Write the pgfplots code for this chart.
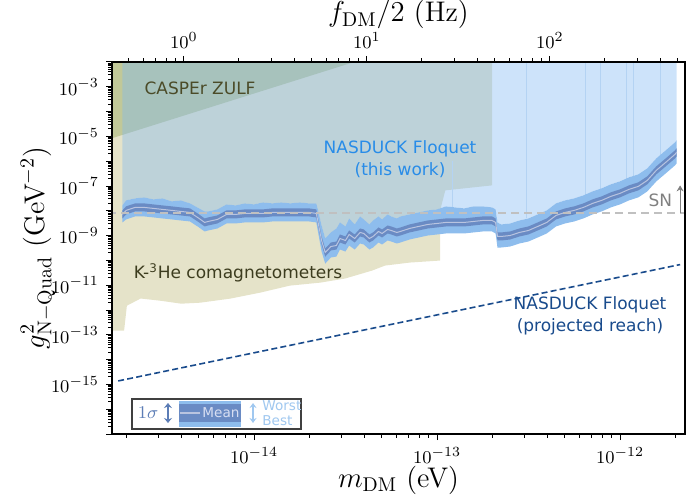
\documentclass[border=0pt]{standalone}
\usepackage{pgfplots}
\pgfplotsset{compat=1.18}
\usepackage{pgfplotstable}
\usepgfplotslibrary{fillbetween}
\usetikzlibrary{arrows.meta}
\usepackage{fontspec}
\newfontfamily\dv{DejaVu Sans}

\definecolor{kh}{RGB}{229,227,201}
\definecolor{casp}{RGB}{110,140,40}
\definecolor{nasfill}{RGB}{130,185,242}
\definecolor{bandout}{RGB}{142,189,237}
\definecolor{bandin}{RGB}{106,139,196}
\definecolor{meanline}{RGB}{185,196,224}
\definecolor{spikecol}{RGB}{180,211,243}
\definecolor{castext}{RGB}{75,75,40}
\definecolor{khtext}{RGB}{60,60,30}
\definecolor{nastext}{RGB}{40,140,232}
\definecolor{projcol}{RGB}{25,75,140}
\definecolor{snline}{RGB}{192,192,192}
\definecolor{sntext}{RGB}{128,128,128}
\definecolor{sigcol}{RGB}{92,125,182}
\definecolor{meantext}{RGB}{215,222,242}
\definecolor{worstcol}{RGB}{160,200,240}

\pgfplotstableread{
m mean worst hi lo best
1.91e-15 7.14e-9 1.65e-8 1.04e-8 4.92e-9 3.40e-9
2.00e-15 1.04e-8 2.63e-8 1.51e-8 7.14e-9 4.49e-9
2.24e-15 1.37e-8 3.17e-8 1.99e-8 9.44e-9 5.93e-9
2.51e-15 1.37e-8 3.48e-8 1.99e-8 9.44e-9 5.93e-9
2.82e-15 1.25e-8 2.89e-8 1.81e-8 8.61e-9 5.41e-9
3.16e-15 1.14e-8 3.17e-8 1.65e-8 7.85e-9 4.92e-9
3.55e-15 1.04e-8 2.40e-8 1.51e-8 7.14e-9 4.49e-9
3.98e-15 9.44e-9 2.63e-8 1.37e-8 6.51e-9 4.08e-9
4.47e-15 8.61e-9 1.99e-8 1.25e-8 5.93e-9 3.72e-9
5.01e-15 4.92e-9 1.25e-8 7.14e-9 3.40e-9 2.13e-9
5.37e-15 3.40e-9 9.44e-9 4.92e-9 2.34e-9 1.47e-9
5.62e-15 3.72e-9 9.44e-9 5.41e-9 2.56e-9 1.61e-9
6.31e-15 4.49e-9 1.14e-8 6.51e-9 3.09e-9 1.94e-9
7.08e-15 7.14e-9 1.81e-8 1.04e-8 4.92e-9 3.09e-9
7.94e-15 7.14e-9 1.65e-8 1.04e-8 4.92e-9 3.09e-9
8.91e-15 7.85e-9 1.99e-8 1.14e-8 5.41e-9 3.40e-9
1.00e-14 7.85e-9 1.81e-8 1.14e-8 5.41e-9 3.40e-9
1.12e-14 7.85e-9 2.18e-8 1.14e-8 5.41e-9 3.40e-9
1.26e-14 8.61e-9 1.99e-8 1.25e-8 5.93e-9 3.72e-9
1.41e-14 8.61e-9 2.18e-8 1.25e-8 5.93e-9 3.72e-9
1.58e-14 8.61e-9 1.99e-8 1.25e-8 5.93e-9 3.72e-9
1.78e-14 8.61e-9 2.18e-8 1.25e-8 5.93e-9 3.72e-9
2.00e-14 8.61e-9 1.99e-8 1.25e-8 5.93e-9 3.72e-9
2.19e-14 7.85e-9 1.99e-8 1.14e-8 5.41e-9 3.40e-9
2.24e-14 3.40e-9 1.04e-8 4.92e-9 2.34e-9 1.34e-9
2.34e-14 6.35e-10 2.56e-9 9.22e-10 4.38e-10 2.28e-10
2.45e-14 2.08e-10 7.65e-10 3.01e-10 1.43e-10 7.46e-11
2.51e-14 2.51e-10 9.22e-10 3.63e-10 1.72e-10 8.99e-11
2.63e-14 3.63e-10 1.34e-9 5.27e-10 2.51e-10 1.31e-10
2.82e-14 3.99e-10 1.94e-9 5.78e-10 2.75e-10 1.43e-10
2.95e-14 7.65e-10 3.40e-9 1.11e-9 5.27e-10 2.75e-10
3.16e-14 6.35e-10 2.34e-9 9.22e-10 4.38e-10 2.28e-10
3.31e-14 1.11e-9 4.92e-9 1.61e-9 7.65e-10 3.99e-10
3.55e-14 7.65e-10 2.82e-9 1.11e-9 5.27e-10 2.75e-10
3.80e-14 1.34e-9 5.93e-9 1.94e-9 9.22e-10 4.81e-10
3.98e-14 1.22e-9 4.49e-9 1.77e-9 8.39e-10 4.38e-10
4.27e-14 7.65e-10 2.82e-9 1.11e-9 5.27e-10 2.75e-10
4.47e-14 9.22e-10 4.08e-9 1.34e-9 6.35e-10 3.31e-10
4.79e-14 1.47e-9 5.93e-9 2.13e-9 1.01e-9 5.27e-10
5.01e-14 1.22e-9 4.49e-9 1.77e-9 8.39e-10 4.38e-10
5.37e-14 1.77e-9 7.14e-9 2.56e-9 1.22e-9 6.35e-10
5.62e-14 1.61e-9 5.93e-9 2.34e-9 1.11e-9 5.78e-10
6.03e-14 1.34e-9 4.92e-9 1.94e-9 9.22e-10 4.81e-10
6.31e-14 1.47e-9 5.93e-9 2.13e-9 1.01e-9 5.27e-10
7.08e-14 1.94e-9 7.14e-9 2.82e-9 1.34e-9 6.97e-10
7.94e-14 2.34e-9 8.61e-9 3.40e-9 1.61e-9 8.39e-10
8.91e-14 2.82e-9 1.04e-8 4.08e-9 1.94e-9 1.01e-9
1.00e-13 3.09e-9 1.14e-8 4.49e-9 2.13e-9 1.11e-9
1.12e-13 3.40e-9 1.51e-8 4.92e-9 2.34e-9 1.22e-9
1.26e-13 3.40e-9 1.37e-8 4.92e-9 2.34e-9 1.22e-9
1.41e-13 3.40e-9 1.25e-8 4.92e-9 2.34e-9 1.22e-9
1.58e-13 3.72e-9 1.51e-8 5.41e-9 2.56e-9 1.34e-9
1.78e-13 4.08e-9 1.51e-8 5.93e-9 2.82e-9 1.47e-9
2.00e-13 4.08e-9 1.37e-8 5.93e-9 2.82e-9 1.47e-9
2.09e-13 3.40e-9 1.14e-8 4.92e-9 2.34e-9 1.22e-9
2.14e-13 9.22e-10 3.40e-9 1.34e-9 6.35e-10 3.31e-10
2.24e-13 9.22e-10 2.82e-9 1.34e-9 6.35e-10 3.31e-10
2.51e-13 1.01e-9 3.09e-9 1.47e-9 6.97e-10 3.63e-10
2.82e-13 1.34e-9 4.08e-9 1.94e-9 9.22e-10 4.81e-10
3.16e-13 1.61e-9 4.92e-9 2.34e-9 1.11e-9 5.78e-10
3.55e-13 2.34e-9 7.14e-9 3.40e-9 1.61e-9 8.39e-10
3.98e-13 3.40e-9 1.04e-8 4.92e-9 2.34e-9 1.22e-9
4.47e-13 6.51e-9 1.99e-8 9.44e-9 4.49e-9 2.34e-9
5.01e-13 8.61e-9 2.63e-8 1.25e-8 5.93e-9 3.09e-9
5.62e-13 1.04e-8 3.17e-8 1.51e-8 7.14e-9 3.72e-9
6.31e-13 1.37e-8 4.19e-8 1.99e-8 9.44e-9 4.92e-9
7.08e-13 1.99e-8 6.08e-8 2.89e-8 1.37e-8 7.14e-9
7.94e-13 2.63e-8 8.04e-8 3.82e-8 1.81e-8 9.44e-9
8.91e-13 3.82e-8 1.17e-7 5.55e-8 2.63e-8 1.37e-8
1.00e-12 5.05e-8 1.54e-7 7.33e-8 3.48e-8 1.81e-8
1.12e-12 7.33e-8 2.24e-7 1.06e-7 5.05e-8 2.63e-8
1.26e-12 9.69e-8 2.96e-7 1.41e-7 6.67e-8 3.48e-8
1.41e-12 1.69e-7 5.18e-7 2.46e-7 1.17e-7 6.08e-8
1.58e-12 4.30e-7 1.31e-6 6.24e-7 2.96e-7 1.54e-7
1.78e-12 9.06e-7 2.77e-6 1.31e-6 6.24e-7 3.25e-7
2.00e-12 1.91e-6 5.82e-6 2.77e-6 1.31e-6 6.84e-7
2.04e-12 2.30e-6 7.01e-6 3.33e-6 1.58e-6 8.24e-7
}\band

\begin{document}
\begin{tikzpicture}
\begin{axis}[
  scale only axis, width=286.5pt, height=186pt,
  xmode=log, ymode=log,
  xmin=1.675e-15, xmax=2.265e-12, ymin=1e-17, ymax=1e-2,
  axis on top,
  fill between/on layer=main,
  xtick={1e-15,1e-14,1e-13,1e-12,1e-11},
  ytick={1e-17,1e-16,1e-15,1e-14,1e-13,1e-12,1e-11,1e-10,1e-9,1e-8,1e-7,1e-6,1e-5,1e-4,1e-3,1e-2},
  yticklabels={,,$10^{-15}$,,$10^{-13}$,,$10^{-11}$,,$10^{-9}$,,$10^{-7}$,,$10^{-5}$,,$10^{-3}$,},
  xtick pos=bottom, ytick pos=left, tick align=outside,
  major tick length=3pt, minor tick length=1.8pt,
  axis line style={line width=0.8pt},
  every tick/.style={black, line width=0.5pt},
  xlabel={$m_{\rm DM}$ (eV)},
  ylabel={$g^2_{\rm N{-}Quad}$ (GeV$^{-2}$)},
  xlabel style={at={(rel axis cs:0.5,0)}, anchor=base, yshift=-26.5pt},
  ylabel style={at={(rel axis cs:0,0.5)}, anchor=center, yshift=37pt},
  label style={font=\fontsize{14.2}{17}\selectfont},
  tick label style={font=\fontsize{9.5}{11}\selectfont},
]
\coordinate (SW) at (rel axis cs:0,0);
\coordinate (NE) at (rel axis cs:1,1);

% K-3He comagnetometers
\addplot[fill=kh, draw=none] coordinates {
(1.6e-15,1.1e-2) (1.6e-15,1.46e-13) (1.95e-15,1.46e-13) (2.02e-15,1.49e-12)
(2.4e-15,2.9e-12) (3.06e-15,2.38e-12) (4.0e-15,1.8e-12) (5.07e-15,1.97e-12)
(7.40e-15,2.87e-12) (1.08e-14,5.01e-12) (1.57e-14,9.61e-12) (2.30e-14,1.27e-11)
(3.14e-14,1.85e-11) (4.42e-14,3.89e-11) (5.20e-14,6.19e-11) (7.11e-14,8.19e-11)
(1.04e-13,9.86e-11) (1.04e-13,1.04e-8) (1.11e-13,6.67e-8) (2.00e-13,1.06e-7)
(2.00e-13,1.1e-2)};
% CASPEr ZULF
\addplot[fill=casp, fill opacity=0.3, draw=none] coordinates {
(1.6e-15,1.1e-2) (1.6e-15,7.6e-6) (4.2e-14,1.5e-2)};

% NASDUCK band
\addplot[draw=none, name path=W] table[x=m,y=worst]{\band};
\addplot[draw=none, name path=B] table[x=m,y=best]{\band};
\addplot[draw=none, name path=H] table[x=m,y=hi]{\band};
\addplot[draw=none, name path=L] table[x=m,y=lo]{\band};
\addplot[draw=none, name path=T] coordinates {(1.91e-15,1e-2) (2.04e-12,1e-2)};
\addplot[fill=nasfill, fill opacity=0.4, draw=none] fill between[of=W and T];

% spikes
\addplot[spikecol, line width=0.5pt] coordinates {(1.21e-13,1.4e-8) (1.21e-13,1e-6)};
\addplot[spikecol, line width=0.5pt] coordinates {(3.10e-13,5e-9) (3.10e-13,1e-2)};
\addplot[spikecol, line width=0.5pt] coordinates {(6.44e-13,4e-8) (6.44e-13,1e-2)};
\addplot[spikecol, line width=0.5pt] coordinates {(7.78e-13,7e-8) (7.78e-13,1e-2)};
\addplot[spikecol, line width=0.5pt] coordinates {(1.08e-12,2e-7) (1.08e-12,1e-2)};
\addplot[spikecol, line width=0.5pt] coordinates {(1.18e-12,2.5e-7) (1.18e-12,1e-2)};
\addplot[spikecol, line width=0.5pt] coordinates {(1.66e-12,1.8e-6) (1.66e-12,1e-2)};

\addplot[fill=bandout, draw=none] fill between[of=W and B];
\addplot[fill=bandin, draw=none] fill between[of=H and L];
\addplot[meanline, line width=0.5pt] table[x=m,y=mean]{\band};

% SN
\addplot[snline, line width=1pt, dash pattern=on 4pt off 2.5pt] coordinates {(1.6e-15,7.85e-9) (2.4e-12,7.85e-9)};
\addplot[sntext, line width=0.6pt, -{Stealth[length=3pt,width=3.5pt]}] coordinates {(2.13e-12,7.85e-9) (2.13e-12,1.06e-7)};
\node[font=\dv\fontsize{8.5}{10}\selectfont, text=sntext] at (axis cs:1.66e-12,2.63e-8) {SN};

% projected reach
\addplot[projcol, line width=0.8pt, dash pattern=on 3pt off 1.6pt] coordinates {(1.81e-15,1.38e-15) (2.13e-12,6.79e-11)};

% labels
\node[font=\dv\fontsize{8.5}{10}\selectfont, text=castext] at (axis cs:5.07e-15,8.89e-4) {CASPEr ZULF};
\node[font=\dv\fontsize{8.5}{11}\selectfont, text=nastext, align=center] at (axis cs:6.28e-14,1.20e-6) {NASDUCK Floquet\\(this work)};
\node[font=\dv\fontsize{8.5}{10}\selectfont, text=khtext] at (axis cs:8.18e-15,3.24e-11) {K-\textsuperscript{3}He comagnetometers};
\node[font=\dv\fontsize{8.5}{11}\selectfont, text=projcol, align=center] at (axis cs:6.86e-13,5.89e-13) {NASDUCK Floquet\\(projected reach)};

% legend
\draw[draw=black!75, fill=white, line width=0.6pt] (rel axis cs:0.0349,0.0134) rectangle (rel axis cs:0.3298,0.0941);
\node[text=sigcol, font=\fontsize{9}{10}\selectfont, inner sep=0pt] at (rel axis cs:0.0628,0.0565) {$1\sigma$};
\draw[sigcol, line width=1.1pt, {Stealth[length=2.5pt,width=4pt]}-{Stealth[length=2.5pt,width=4pt]}] (rel axis cs:0.0977,0.0296) -- (rel axis cs:0.0977,0.0833);
\fill[bandout] (rel axis cs:0.1169,0.0188) rectangle (rel axis cs:0.2251,0.0874);
\fill[bandin] (rel axis cs:0.1169,0.0323) rectangle (rel axis cs:0.2251,0.0806);
\draw[meanline, line width=0.6pt] (rel axis cs:0.1187,0.0565) -- (rel axis cs:0.1536,0.0565);
\node[font=\dv\fontsize{6.8}{8}\selectfont, text=meantext, inner sep=0pt] at (rel axis cs:0.1902,0.0565) {Mean};
\draw[worstcol, line width=0.6pt, {Stealth[length=2.5pt,width=3.5pt]}-{Stealth[length=2.5pt,width=3.5pt]}] (rel axis cs:0.2461,0.0296) -- (rel axis cs:0.2461,0.0833);
\node[font=\dv\fontsize{6.8}{8}\selectfont, text=worstcol, anchor=west, inner sep=0pt] at (rel axis cs:0.2618,0.0753) {Worst};
\node[font=\dv\fontsize{6.8}{8}\selectfont, text=worstcol, anchor=west, inner sep=0pt] at (rel axis cs:0.2618,0.0349) {Best};
\end{axis}

\begin{axis}[
  scale only axis, width=286.5pt, height=186pt,
  xmode=log, xmin=0.405, xmax=547.7, ymin=0, ymax=1,
  axis x line*=top, axis y line=none,
  xtick={0.1,1,10,100,1000},
  tick align=outside,
  major tick length=3pt, minor tick length=1.8pt,
  axis line style={line width=0.8pt},
  every tick/.style={black, line width=0.5pt},
  xlabel={$f_{\rm DM}/2$ (Hz)},
  xlabel style={at={(rel axis cs:0.5,1)}, anchor=base, yshift=20pt},
  label style={font=\fontsize{14.2}{17}\selectfont},
  tick label style={font=\fontsize{9.5}{11}\selectfont},
]
\addplot[draw=none] coordinates {(1,0.5)};
\end{axis}
\pgfresetboundingbox
\path ([shift={(-56pt,-30pt)}]SW) rectangle ([shift={(4.5pt,31pt)}]NE);
\end{tikzpicture}
\end{document}
